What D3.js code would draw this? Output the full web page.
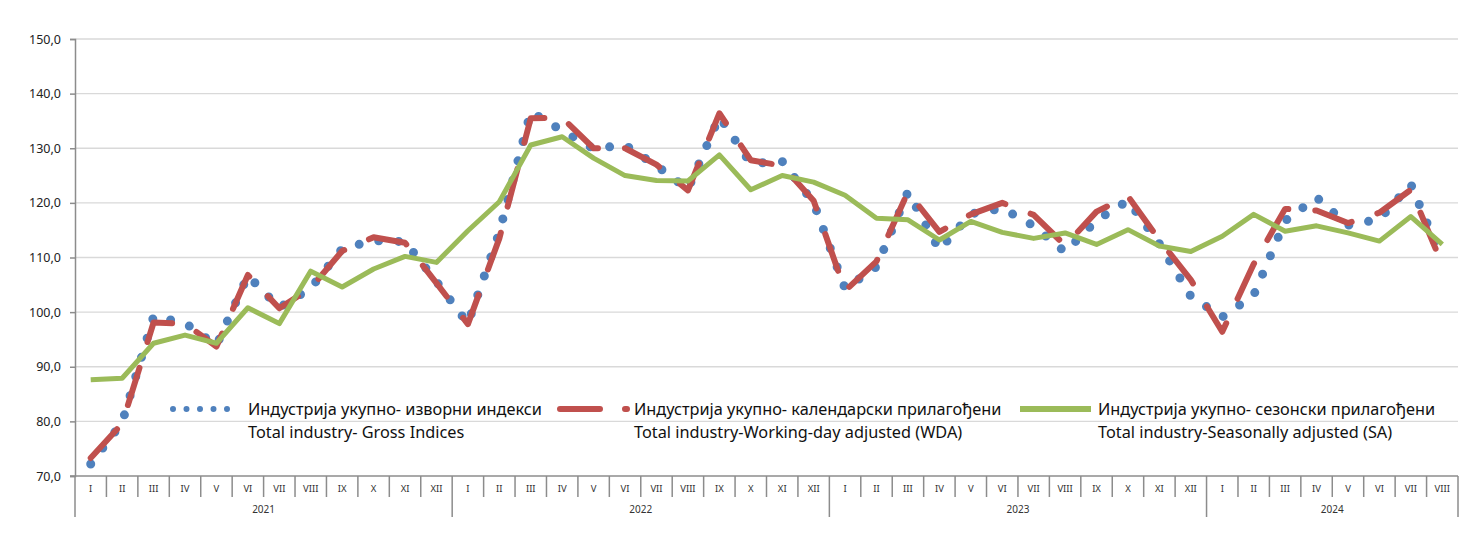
<!DOCTYPE html>
<html>
<head>
<meta charset="utf-8">
<script src="https://cdn.jsdelivr.net/npm/d3@7"></script>
<style>
  body { margin: 0; background: #fff; }
  svg { display: block; font-family: "Noto Sans", sans-serif; }
</style>
</head>
<body>
<svg id="chart" width="1459" height="549"></svg>
<script>
var monthNames = ["I", "II", "III", "IV", "V", "VI", "VII", "VIII", "IX", "X", "XI", "XII"];
var years = ["2021", "2022", "2023", "2024"];
var monthsInYear = [12, 12, 12, 8];
var yTicks = [70, 80, 90, 100, 110, 120, 130, 140, 150];

var gross = [
  72.2, 79.8, 99.2, 98.0, 93.9, 106.7, 100.8, 104.4, 111.6, 113.1, 112.9, 105.6,
  97.9, 114.6, 136.7, 133.2, 129.9, 130.6, 126.8, 122.5, 135.8, 127.2, 127.6, 120.0,
  104.3, 108.3, 122.0, 111.4, 118.0, 119.0, 115.8, 111.0, 116.8, 120.4, 112.5, 102.9,
  99.1, 103.1, 116.7, 121.0, 115.9, 117.0, 123.4, 109.6
];
var wda = [
  73.3, 79.6, 98.1, 97.9, 93.7, 106.8, 100.7, 104.4, 111.2, 113.7, 112.7, 105.3,
  97.8, 113.5, 135.5, 135.6, 130.0, 130.0, 127.0, 122.3, 136.4, 127.8, 126.8, 120.4,
  103.9, 109.3, 122.0, 114.7, 117.9, 120.0, 117.8, 112.2, 118.4, 121.2, 113.2, 105.9,
  96.4, 108.8, 118.9, 118.6, 116.3, 118.2, 122.4, 108.7
];
var sa = [
  87.6, 87.9, 94.3, 95.8, 94.3, 100.8, 97.9, 107.5, 104.6, 107.9, 110.2, 109.1,
  114.9, 120.2, 130.6, 132.1, 128.2, 125.0, 124.1, 124.0, 128.8, 122.4, 125.0, 123.8,
  121.4, 117.2, 116.9, 113.2, 116.6, 114.6, 113.5, 114.5, 112.4, 115.1, 112.1, 111.1,
  113.9, 117.9, 114.8, 115.8, 114.5, 113.0, 117.5, 112.4
];

var legendSr = [
  "Индустрија укупно- изворни индекси",
  "Индустрија укупно- календарски прилагођени",
  "Индустрија укупно- сезонски прилагођени"
];
var legendEn = [
  "Total industry- Gross Indices",
  "Total industry-Working-day adjusted (WDA)",
  "Total industry-Seasonally adjusted (SA)"
];

var labels = [];
years.forEach((y, k) => {
  for (let m = 0; m < monthsInYear[k]; m++)
    labels.push({ year: y, month: monthNames[m] });
});

var plotLeft = 75, plotRight = 1458, plotTop = 39, plotBottom = 476;
var axisColor = "#8c8c8c";

var svg = d3.select("#chart");

var x = d3.scaleBand()
  .domain(d3.range(labels.length))
  .range([plotLeft, plotRight]);
var y = d3.scaleLinear()
  .domain([70, 150])
  .range([plotBottom, plotTop]);
var cx = i => x(i) + x.bandwidth() / 2;

// gridlines
svg.append("g")
  .selectAll("line")
  .data(yTicks.slice(1))
  .enter()
  .append("line")
  .attr("x1", plotLeft)
  .attr("x2", plotRight)
  .attr("y1", d => y(d))
  .attr("y2", d => y(d))
  .attr("stroke", "#d9d9d9")
  .attr("stroke-width", 1.3);

// y axis
var yAxis = svg.append("g")
  .attr("transform", `translate(${plotLeft},0)`)
  .call(d3.axisLeft(y)
    .tickValues(yTicks)
    .tickSize(5)
    .tickPadding(9)
    .tickFormat(d => d.toFixed(1).replace(".", ",")));
yAxis.select(".domain").attr("stroke", axisColor).attr("stroke-width", 1.5);
yAxis.selectAll(".tick line").attr("stroke", axisColor).attr("stroke-width", 1.5);
yAxis.selectAll("text")
  .attr("fill", "#222")
  .style("font-size", "12.5px")
  .style("font-family", "Noto Sans");

// x axis: month and year separators
var xa = svg.append("g");
xa.append("line")
  .attr("x1", plotLeft - 5)
  .attr("x2", plotRight)
  .attr("y1", plotBottom)
  .attr("y2", plotBottom)
  .attr("stroke", axisColor)
  .attr("stroke-width", 1.5);

var yearStarts = [0];
monthsInYear.forEach(n => yearStarts.push(yearStarts[yearStarts.length - 1] + n));

var seps = d3.range(labels.length + 1);
xa.selectAll(".sep")
  .data(seps)
  .enter()
  .append("line")
  .attr("class", "sep")
  .attr("x1", i => i < labels.length ? x(i) : plotRight)
  .attr("x2", i => i < labels.length ? x(i) : plotRight)
  .attr("y1", plotBottom)
  .attr("y2", i => yearStarts.indexOf(i) != -1 ? 517 : 497)
  .attr("stroke", axisColor)
  .attr("stroke-width", 1.5);

xa.selectAll(".mlab")
  .data(labels)
  .enter()
  .append("text")
  .attr("class", "mlab")
  .attr("x", (d, i) => cx(i))
  .attr("y", 489)
  .attr("dy", "0.35em")
  .attr("text-anchor", "middle")
  .attr("fill", "#333")
  .style("font-size", "9.5px")
  .text(d => d.month);

xa.selectAll(".ylab")
  .data(years)
  .enter()
  .append("text")
  .attr("class", "ylab")
  .attr("x", (d, k) => {
    let a = x(yearStarts[k]);
    let b = yearStarts[k + 1] < labels.length ? x(yearStarts[k + 1]) : plotRight;
    return (a + b) / 2;
  })
  .attr("y", 509)
  .attr("dy", "0.35em")
  .attr("text-anchor", "middle")
  .attr("fill", "#333")
  .style("font-size", "10px")
  .text(d => d);

// series
var line = d3.line()
  .x((d, i) => cx(i))
  .y(d => y(d));

svg.append("path")
  .datum(gross)
  .attr("d", line)
  .attr("fill", "none")
  .attr("stroke", "#4f81bd")
  .attr("stroke-width", 9)
  .attr("stroke-linecap", "round")
  .attr("stroke-linejoin", "round")
  .attr("stroke-dasharray", "0 20");

svg.append("path")
  .datum(wda)
  .attr("d", line)
  .attr("fill", "none")
  .attr("stroke", "#c0504d")
  .attr("stroke-width", 6)
  .attr("stroke-linecap", "round")
  .attr("stroke-linejoin", "round")
  .attr("stroke-dasharray", "39 27");

svg.append("path")
  .datum(sa)
  .attr("d", line)
  .attr("fill", "none")
  .attr("stroke", "#9bbb59")
  .attr("stroke-width", 5)
  .attr("stroke-linejoin", "round");

// legend
var legend = svg.append("g");
var legX = [248, 634, 1098];

legend.append("line")
  .attr("x1", 173).attr("x2", 228).attr("y1", 409).attr("y2", 409)
  .attr("stroke", "#4f81bd")
  .attr("stroke-width", 6)
  .attr("stroke-linecap", "round")
  .attr("stroke-dasharray", "0 13.5");

legend.append("line")
  .attr("x1", 560).attr("x2", 627).attr("y1", 409).attr("y2", 409)
  .attr("stroke", "#c0504d")
  .attr("stroke-width", 6)
  .attr("stroke-linecap", "round")
  .attr("stroke-dasharray", "40 25");

legend.append("line")
  .attr("x1", 1020).attr("x2", 1091).attr("y1", 409).attr("y2", 409)
  .attr("stroke", "#9bbb59")
  .attr("stroke-width", 6);

legend.selectAll(".l1")
  .data(legendSr)
  .enter()
  .append("text")
  .attr("x", (d, i) => legX[i])
  .attr("y", 409)
  .attr("dy", "0.35em")
  .attr("fill", "#111")
  .style("font-size", "16.3px")
  .text(d => d);

legend.selectAll(".l2")
  .data(legendEn)
  .enter()
  .append("text")
  .attr("x", (d, i) => legX[i])
  .attr("y", 432)
  .attr("dy", "0.35em")
  .attr("fill", "#111")
  .style("font-size", "16.3px")
  .text(d => d);
</script>
</body>
</html>
